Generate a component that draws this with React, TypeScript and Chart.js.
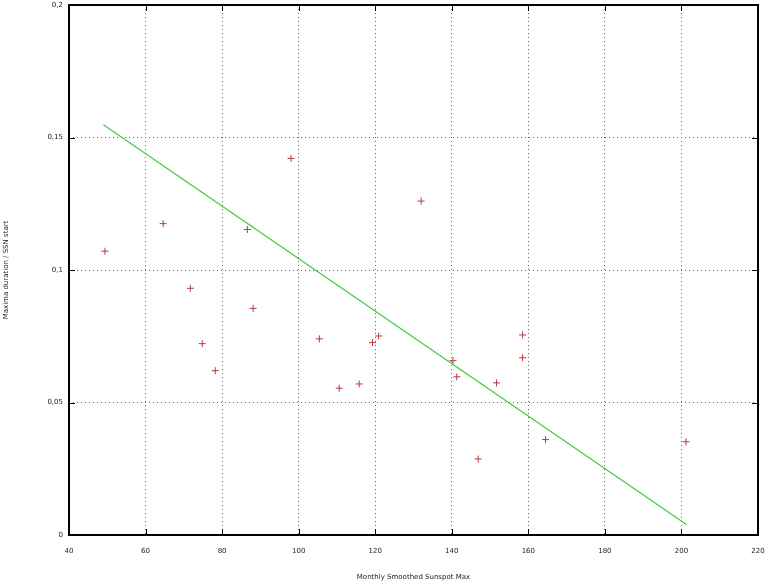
import React, { useEffect, useRef } from "react";
import { Chart, registerables } from "chart.js";

Chart.register(...registerables);

const sunspotMax = [49.4, 64.6, 71.7, 74.8, 78.2, 86.6, 88.1, 98.0, 105.4, 110.6, 115.8, 119.3, 120.9, 132.0, 140.3, 141.3, 146.9, 151.7, 158.5, 158.5, 164.5, 201.2];
const durationRatio = [0.1071, 0.1175, 0.0931, 0.0722, 0.062, 0.1153, 0.0855, 0.1421, 0.074, 0.0554, 0.057, 0.0726, 0.0751, 0.126, 0.0658, 0.0597, 0.0287, 0.0574, 0.0755, 0.0669, 0.036, 0.0352];
const fitX = [49.0, 201.3];
const fitY = [0.1548, 0.004];

const xTitle = "Monthly Smoothed Sunspot Max";
const yTitle = "Maxima duration / SSN start";

const FONT = "'DejaVu Sans', sans-serif";

const framePlugin = {
  id: "gnuFrame",
  afterDatasetsDraw(chart: any) {
    const { ctx, chartArea: a, scales } = chart;
    const x = scales.x;
    const y = scales.y;
    ctx.save();
    ctx.strokeStyle = "#000";
    ctx.lineWidth = 1;
    const t = 6;
    ctx.beginPath();
    x.ticks.forEach((tk: any) => {
      const px = Math.round(x.getPixelForValue(tk.value)) + 0.5;
      ctx.moveTo(px, a.bottom);
      ctx.lineTo(px, a.bottom - t);
      ctx.moveTo(px, a.top);
      ctx.lineTo(px, a.top + t);
    });
    y.ticks.forEach((tk: any) => {
      const py = Math.round(y.getPixelForValue(tk.value)) + 0.5;
      ctx.moveTo(a.left, py);
      ctx.lineTo(a.left + t, py);
      ctx.moveTo(a.right, py);
      ctx.lineTo(a.right - t, py);
    });
    ctx.stroke();
    ctx.lineWidth = 2;
    ctx.strokeRect(a.left, a.top, a.right - a.left, a.bottom - a.top);
    ctx.restore();
  },
};

export default function App() {
  const ref = useRef<HTMLCanvasElement>(null);
  useEffect(() => {
    if (!ref.current) return;
    const chart = new Chart(ref.current, {
      type: "scatter",
      data: {
        datasets: [
          {
            label: "data",
            data: sunspotMax.map((v, i) => ({ x: v, y: durationRatio[i] })),
            pointStyle: "cross",
            pointRadius: 3.5,
            pointBorderWidth: 1,
            borderColor: "#b83838",
            backgroundColor: "#b83838",
            showLine: false,
          },
          {
            label: "fit",
            type: "line",
            data: fitX.map((v, i) => ({ x: v, y: fitY[i] })),
            borderColor: "#3ccc3c",
            borderWidth: 1.2,
            pointRadius: 0,
            fill: false,
          } as any,
        ],
      },
      options: {
        animation: false,
        responsive: false,
        devicePixelRatio: 1,
        layout: { padding: { top: 3, right: 13, left: 0, bottom: 0 } },
        plugins: { legend: { display: false }, tooltip: { enabled: false } },
        scales: {
          x: {
            type: "linear",
            min: 40,
            max: 220,
            afterFit: (s: any) => {
              s.height = 51;
              s.paddingLeft = 0;
              s.paddingRight = 0;
              s.paddingTop = 0;
              s.paddingBottom = 0;
            },
            ticks: {
              stepSize: 20,
              padding: 12,
              color: "#222",
              font: { family: FONT, size: 7 },
              maxRotation: 0,
            },
            grid: { color: "#666", drawTicks: false, lineWidth: 1 },
            border: { display: false, dash: [1, 3] },
            title: {
              display: true,
              text: xTitle,
              color: "#222",
              font: { family: FONT, size: 7 },
              padding: { top: 0, bottom: 5 },
            },
          },
          y: {
            type: "linear",
            min: 0,
            max: 0.2,
            afterFit: (s: any) => {
              s.width = 69;
              s.paddingLeft = 0;
              s.paddingRight = 0;
              s.paddingTop = 0;
              s.paddingBottom = 0;
            },
            ticks: {
              stepSize: 0.05,
              padding: 6,
              color: "#222",
              font: { family: FONT, size: 7 },
              callback: (v: any) => Number(Number(v).toFixed(2)).toString().replace(".", ","),
            },
            grid: { color: "#666", drawTicks: false, lineWidth: 1 },
            border: { display: false, dash: [1, 3] },
            title: {
              display: true,
              text: yTitle,
              color: "#222",
              font: { family: FONT, size: 7 },
              padding: { top: 2, bottom: 0 },
            },
          },
        },
      },
      plugins: [framePlugin],
    });
    return () => chart.destroy();
  }, []);
  return (
    <div style={{ position: "absolute", left: 0, top: 0, width: 771, height: 586, background: "#fff" }}>
      <canvas ref={ref} width={771} height={586} style={{ display: "block", width: 771, height: 586 }} />
    </div>
  );
}
